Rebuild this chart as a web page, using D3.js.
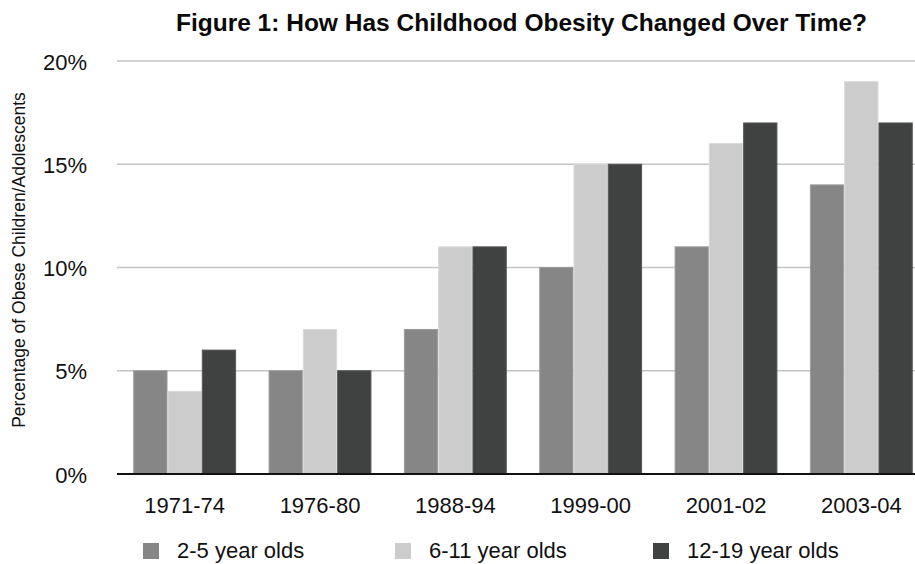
<!DOCTYPE html>
<html><head><meta charset="utf-8">
<script src="https://cdn.jsdelivr.net/npm/d3@7"></script>
<style>body{margin:0;background:#fff}text{font-family:"Liberation Sans",Arial,sans-serif}</style>
</head><body>
<svg id="c" width="915" height="564"></svg>
<script>
const categories = ["1971-74","1976-80","1988-94","1999-00","2001-02","2003-04"];
const seriesNames = ["2-5 year olds","6-11 year olds","12-19 year olds"];
const ages2to5 = [5,5,7,10,11,14];
const ages6to11 = [4,7,11,15,16,19];
const ages12to19 = [6,5,11,15,17,17];
const yTicks = [0,5,10,15,20];
const title = "Figure 1: How Has Childhood Obesity Changed Over Time?";
const yTitle = "Percentage of Obese Children/Adolescents";

const seriesValues = [ages2to5, ages6to11, ages12to19];
const colors = ["#858685","#cbcccb","#404241"];
const strokes = ["#9a9b9a","#d8d9d8","#555756"];

const svg = d3.select("#c");
const mLeft = 117, mRight = 929, mTop = 61, mBottom = 474;
const x0 = d3.scaleBand().domain(categories).range([mLeft, mRight]).paddingInner(0.24).paddingOuter(0.12);
const x1 = d3.scaleBand().domain(d3.range(3)).range([0, x0.bandwidth()]);
const y = d3.scaleLinear().domain([0,20]).range([mBottom, mTop]);

// gridlines
svg.append("g").selectAll("line").data(yTicks.filter(d=>d>0)).join("line")
  .attr("x1", mLeft).attr("x2", 915).attr("y1", d=>y(d)).attr("y2", d=>y(d))
  .attr("stroke","#c4c4c4").attr("stroke-width",1.6);

// y labels
const yAxis = d3.axisLeft(y).tickValues(yTicks).tickFormat(d=>d+"%").tickSize(0).tickPadding(0);
const ga = svg.append("g").attr("transform",`translate(87,0)`).call(yAxis);
ga.select(".domain").remove();
ga.selectAll("text").attr("font-size",22).attr("fill","#111").attr("dy","0.37em");

// bars
const groups = svg.append("g").selectAll("g").data(categories).join("g")
  .attr("transform", d=>`translate(${x0(d)},0)`);
groups.selectAll("rect").data((d,i)=>seriesValues.map((s,k)=>({k, v:s[i]}))).join("rect")
  .attr("x", d=>x1(d.k)+0.5).attr("width", x1.bandwidth()-1)
  .attr("y", d=>y(d.v)).attr("height", d=>mBottom - y(d.v))
  .attr("fill", d=>colors[d.k]).attr("stroke", d=>strokes[d.k]).attr("stroke-width",1);

// baseline
svg.append("line").attr("x1",mLeft).attr("x2",915).attr("y1",mBottom).attr("y2",mBottom)
  .attr("stroke","#111").attr("stroke-width",2);

// x labels
const xAxis = d3.axisBottom(x0).tickSize(0).tickPadding(0);
const gx = svg.append("g").attr("transform",`translate(0,${mBottom})`).call(xAxis);
gx.select(".domain").remove();
gx.selectAll("text").attr("font-size",22).attr("fill","#111").attr("dy",0).attr("y",39);

// title
svg.append("text").attr("x",521.5).attr("y",30.5).attr("text-anchor","middle")
  .attr("font-size",24.5).attr("font-weight","bold").attr("fill","#0a0a0a").text(title);

// y title
svg.append("text").attr("transform","translate(25,260) rotate(-90)").attr("text-anchor","middle")
  .attr("font-size",17.5).attr("fill","#111").text(yTitle);

// legend
const legX = [143,395,653];
const lg = svg.append("g").selectAll("g").data(seriesNames).join("g")
  .attr("transform",(d,i)=>`translate(${legX[i]},543)`);
lg.append("rect").attr("width",16).attr("height",16).attr("fill",(d,i)=>colors[i]);
lg.append("text").attr("x",34).attr("y",15).attr("font-size",22).attr("fill","#111").text(d=>d);
</script>
</body></html>
